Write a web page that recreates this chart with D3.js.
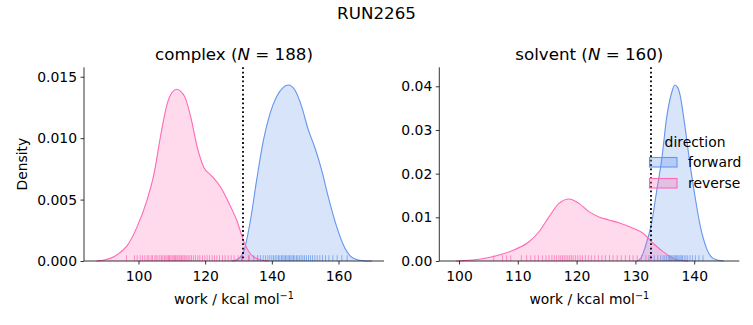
<!DOCTYPE html>
<html>
<head>
<meta charset="utf-8">
<script src="https://cdn.jsdelivr.net/npm/d3@7"></script>
<style>
  html, body { margin: 0; padding: 0; background: #fff; }
  svg { display: block; font-family: "DejaVu Sans", sans-serif; }
  .tick text { font-family: "DejaVu Sans", sans-serif; font-size: 13.9px; fill: #000; }
  .domain, .tick line { stroke: #000; stroke-width: 0.8; }
</style>
</head>
<body>
<svg id="chart" width="753" height="325"></svg>
<script>
// ---------------- data ----------------
const suptitle = "RUN2265";
const panelNames = ["complex", "solvent"];
const panelN = [188, 160];
const directions = ["forward", "reverse"];
const colors = ["#6495ED", "#FF69B4"];

const complexXTicks = [100, 120, 140, 160];
const complexYTicks = [0, 0.005, 0.010, 0.015];
const solventXTicks = [100, 110, 120, 130, 140];
const solventYTicks = [0, 0.01, 0.02, 0.03, 0.04];

const complexXDomain = [83.65, 173.65];
const complexYMax = 0.01577;
const solventXDomain = [96.65, 147.67];
const solventYMax = 0.04435;

const complexDeltaF = 131.35;
const solventDeltaF = 132.65;

// KDE curves: x (work) and density
const complexForwardX = [128, 129.5, 131.45, 133.45, 135.45, 137.45, 139.45, 141.45, 143.45, 144.95, 146.95, 148.95, 150.95, 152.95, 154.95, 156.95, 159.45, 161.95, 164.45, 167.45, 170];
const complexForwardD = [0, 0.0001, 0.0007, 0.0031, 0.0066, 0.0098, 0.0120, 0.0134, 0.01414, 0.01433, 0.0139, 0.01257, 0.01067, 0.0092, 0.0074, 0.0052, 0.0028, 0.00103, 0.00022, 0.00002, 0];
const complexReverseX = [87.4, 90, 92.6, 94.5, 96.6, 99.6, 102.6, 104.65, 106.7, 108.6, 110, 111.5, 112.5, 114, 115.7, 117.6, 119.65, 121.7, 124.65, 127.5, 129.5, 131.45, 133.45, 136.45, 139];
const complexReverseD = [0, 0.0001, 0.00035, 0.0007, 0.00125, 0.0028, 0.0050, 0.0071, 0.0103, 0.0128, 0.0137, 0.01398, 0.01385, 0.0133, 0.0117, 0.0093, 0.0076, 0.0070, 0.0060, 0.0045, 0.0033, 0.0017, 0.00063, 0.0001, 0];

const solventForwardX = [130.3, 131, 131.6, 132.8, 133.6, 134.5, 135.3, 136.2, 136.7, 137.2, 137.6, 138.4, 139.3, 140.1, 141.0, 142.1, 143.2, 144.4, 145];
const solventForwardD = [0, 0.0008, 0.0029, 0.009, 0.0159, 0.0235, 0.0327, 0.0387, 0.0403, 0.0397, 0.0380, 0.0311, 0.0220, 0.0151, 0.0082, 0.0029, 0.0006, 0.0001, 0];
const solventReverseX = [99.5, 101, 103.4, 106.2, 109.6, 111.9, 113.6, 115.3, 117.0, 118.7, 120.4, 122.1, 123.8, 125.5, 127.3, 129.6, 131.35, 133.05, 134.75, 136.45, 138, 139];
const solventReverseD = [0, 0.0001, 0.0004, 0.00114, 0.0027, 0.0044, 0.0067, 0.0101, 0.0132, 0.0142, 0.0132, 0.0113, 0.0101, 0.0094, 0.0087, 0.0075, 0.0063, 0.0040, 0.0021, 0.0006, 0.0001, 0];

// Rug samples
const complexForwardRug = [130.9, 133.2, 134.6, 135.7, 136.6, 137.4, 138.1, 138.8, 139.4, 140.0, 140.5, 141.0, 141.5, 142.0, 142.4, 142.9, 143.3, 143.7, 144.1, 144.5, 144.9, 145.3, 145.7, 146.1, 146.5, 146.9, 147.4, 147.8, 148.3, 148.8, 149.3, 149.8, 150.4, 151.0, 151.6, 152.2, 152.9, 153.6, 154.4, 155.2, 156.1, 157.1, 158.3, 159.6, 161.0, 162.6];
const complexReverseRug = [96.4, 98.8, 99.6, 100.5, 101.2, 101.9, 102.6, 103.1, 103.8, 104.2, 104.9, 105.3, 105.8, 106.4, 106.9, 107.3, 107.8, 108.2, 108.6, 109.0, 109.3, 109.7, 110.1, 110.4, 110.8, 111.1, 111.5, 111.8, 112.2, 112.5, 112.9, 113.3, 113.7, 114.0, 114.5, 114.9, 115.4, 115.9, 116.5, 117.1, 117.8, 118.4, 119.2, 119.9, 120.6, 121.3, 122.1, 122.8, 123.5, 124.3, 125.2, 126.0, 126.9, 127.8, 128.7, 129.9, 131.2, 133.0, 135.8];
const solventForwardRug = [132.3, 133.2, 133.8, 134.3, 134.7, 135.0, 135.3, 135.6, 135.8, 136.0, 136.2, 136.4, 136.6, 136.8, 137.0, 137.2, 137.4, 137.6, 137.8, 138.0, 138.3, 138.6, 138.9, 139.3, 139.7, 140.2, 140.8, 141.5];
const solventReverseRug = [105.9, 107.4, 108.1, 108.8, 110.6, 111.5, 112.2, 112.9, 113.5, 114.2, 114.8, 115.3, 115.8, 116.2, 116.6, 117.0, 117.3, 117.6, 117.9, 118.2, 118.5, 118.8, 119.1, 119.4, 119.8, 120.2, 120.6, 121.0, 121.5, 122.0, 122.5, 123.1, 123.7, 124.3, 124.9, 125.6, 126.2, 126.9, 127.6, 128.3, 129.0, 129.6, 130.3, 131.0, 131.8, 132.6];

// ---------------- drawing ----------------
const svg = d3.select("#chart");
const FS = 13.9;

svg.append("text").attr("x", 376.5).attr("y", 19).attr("text-anchor", "middle")
  .attr("font-size", 16.7).text(suptitle);

const panels = [
  { name: panelNames[0], n: panelN[0], x0: 84, x1: 384, xDomain: complexXDomain, yMax: complexYMax,
    xTicks: complexXTicks, yTicks: complexYTicks, yFmt: d3.format(".3f"), line: complexDeltaF,
    curves: [[complexForwardX, complexForwardD], [complexReverseX, complexReverseD]],
    rugs: [complexForwardRug, complexReverseRug], ylabel: true, legend: false },
  { name: panelNames[1], n: panelN[1], x0: 439.3, x1: 739.3, xDomain: solventXDomain, yMax: solventYMax,
    xTicks: solventXTicks, yTicks: solventYTicks, yFmt: d3.format(".2f"), line: solventDeltaF,
    curves: [[solventForwardX, solventForwardD], [solventReverseX, solventReverseD]],
    rugs: [solventForwardRug, solventReverseRug], ylabel: false, legend: true }
];

const yTop = 67.3, yBot = 261;

panels.forEach(p => {
  const x = d3.scaleLinear().domain(p.xDomain).range([p.x0, p.x1]);
  const y = d3.scaleLinear().domain([0, p.yMax]).range([yBot, yTop]);
  const g = svg.append("g");

  const area = d3.area().x(d => x(d[0])).y0(y(0)).y1(d => y(d[1])).curve(d3.curveMonotoneX);
  const line = d3.line().x(d => x(d[0])).y(d => y(d[1])).curve(d3.curveMonotoneX);

  p.curves.forEach((c, i) => {
    const pts = c[0].map((v, j) => [v, c[1][j]]);
    g.append("path").datum(pts).attr("d", area).attr("fill", colors[i]).attr("fill-opacity", 0.25);
    g.append("path").datum(pts).attr("d", line).attr("fill", "none").attr("stroke", colors[i]).attr("stroke-width", 1.1);
  });

  p.rugs.forEach((r, i) => {
    g.selectAll(null).data(r).enter().append("line")
      .attr("x1", d => x(d)).attr("x2", d => x(d))
      .attr("y1", yBot).attr("y2", yBot - 5.8)
      .attr("stroke", colors[i]).attr("stroke-width", 1).attr("stroke-opacity", 0.7);
  });

  g.append("line").attr("x1", x(p.line)).attr("x2", x(p.line)).attr("y1", yTop).attr("y2", yBot)
    .attr("stroke", "#000").attr("stroke-width", 1.8).attr("stroke-dasharray", "1.8,2.6");

  const xa = g.append("g").attr("transform", `translate(0,${yBot})`)
    .call(d3.axisBottom(x).tickValues(p.xTicks).tickSize(3.5).tickPadding(3.5).tickFormat(d3.format("d")));
  xa.select(".domain").attr("d", `M${p.x0},0H${p.x1}`);
  xa.selectAll(".tick text").attr("dy", "0.95em");

  const ya = g.append("g").attr("transform", `translate(${p.x0},0)`)
    .call(d3.axisLeft(y).tickValues(p.yTicks).tickSize(3.5).tickPadding(3.5).tickFormat(p.yFmt));
  ya.select(".domain").attr("d", `M0,${yBot}V${yTop}`);

  const cx = (p.x0 + p.x1) / 2;
  const t = g.append("text").attr("x", cx).attr("y", 59.5).attr("text-anchor", "middle").attr("font-size", 16.7);
  t.append("tspan").text(p.name + " (");
  t.append("tspan").attr("font-style", "italic").text("N");
  t.append("tspan").text(" = " + p.n + ")");

  const xl = g.append("text").attr("x", cx).attr("y", 304).attr("text-anchor", "middle").attr("font-size", FS);
  xl.append("tspan").text("work / kcal mol");
  xl.append("tspan").attr("font-size", 9.7).attr("dy", -5.5).text("\u22121");

  if (p.ylabel) {
    svg.append("text").attr("transform", `translate(27,${(yTop + yBot) / 2}) rotate(-90)`)
      .attr("text-anchor", "middle").attr("font-size", FS).text("Density");
  }

  if (p.legend) {
    const lg = svg.append("g");
    lg.append("text").attr("x", 695).attr("y", 146.5).attr("text-anchor", "middle").attr("font-size", FS).text("direction");
    directions.forEach((d, i) => {
      const yy = 157.5 + i * 21;
      lg.append("rect").attr("x", 649.5).attr("y", yy).attr("width", 27.5).attr("height", 9.5)
        .attr("fill", colors[i]).attr("fill-opacity", 0.3).attr("stroke", colors[i]).attr("stroke-width", 1.1);
      lg.append("text").attr("x", 688).attr("y", yy + 9).attr("font-size", FS).text(d);
    });
  }
});
</script>
</body>
</html>
